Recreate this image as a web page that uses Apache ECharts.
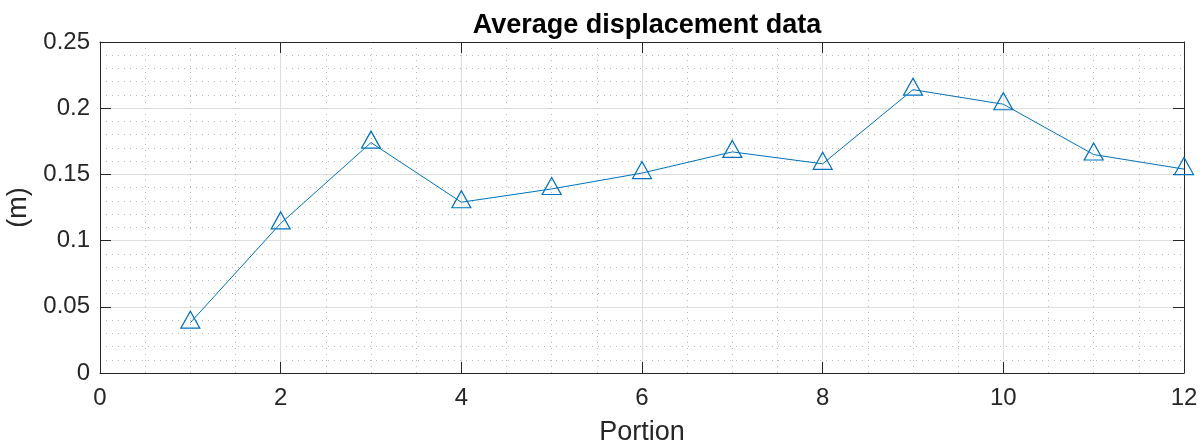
<!DOCTYPE html>
<html>
<head>
<meta charset="utf-8">
<title>Average displacement data</title>
<script src="https://cdn.jsdelivr.net/npm/echarts@6/dist/echarts.min.js"></script>
<style>
  html, body { margin: 0; padding: 0; background: #ffffff; }
  #chart { width: 1204px; height: 445px; }
</style>
</head>
<body>
<div id="chart"></div>
<script>
// Portion index and averaged displacement (m) per portion
const portions = [1, 2, 3, 4, 5, 6, 7, 8, 9, 10, 11, 12];
const displacement = [0.038, 0.113, 0.174, 0.129, 0.139, 0.151, 0.167, 0.158, 0.214, 0.203, 0.165, 0.154];

// Axis ranges and tick steps
const xRange = [0, 12];
const xStep = 2;
const yRange = [0, 0.25];
const yStep = 0.05;

const titleText = 'Average displacement data';
const xName = 'Portion';
const yName = '(m)';

const FONT = '"Liberation Sans", Arial, Helvetica, sans-serif';
const AXIS_COLOR = '#262626';
const LINE_COLOR = '#0072BD';

const points = portions.map((p, i) => [p, displacement[i]]);

const chart = echarts.init(document.getElementById('chart'), null, { renderer: 'canvas' });

const majorGrid = { show: true, lineStyle: { color: '#dedede', width: 1, type: 'solid' } };
const minorGrid = { show: true, lineStyle: { color: '#b8b8b8', width: 1, type: [1, 5] } };
const innerTick = { show: true, inside: true, length: 11, lineStyle: { color: AXIS_COLOR, width: 1 } };
const boxLine = { show: true, onZero: false, lineStyle: { color: AXIS_COLOR, width: 1 } };

chart.setOption({
  animation: false,
  backgroundColor: '#ffffff',
  title: {
    text: titleText,
    left: 642,
    textAlign: 'center',
    top: 7,
    textStyle: { fontFamily: FONT, fontSize: 27, fontWeight: 'bold', color: '#000000' }
  },
  grid: { left: 100, top: 42, width: 1084, height: 331, containLabel: false, outerBoundsMode: 'none' },
  xAxis: [
    {
      type: 'value',
      min: xRange[0], max: xRange[1], interval: xStep,
      name: xName, nameLocation: 'middle', nameGap: 46,
      nameTextStyle: { fontFamily: FONT, fontSize: 27, color: AXIS_COLOR },
      axisLine: boxLine,
      axisTick: innerTick,
      axisLabel: { fontFamily: FONT, fontSize: 24, color: AXIS_COLOR, margin: 13 },
      splitLine: majorGrid,
      minorTick: { show: false, splitNumber: 4 },
      minorSplitLine: minorGrid
    },
    {
      type: 'value', position: 'top',
      min: xRange[0], max: xRange[1], interval: xStep,
      axisLine: boxLine,
      axisTick: innerTick,
      axisLabel: { show: false },
      splitLine: { show: false }
    }
  ],
  yAxis: [
    {
      type: 'value',
      min: yRange[0], max: yRange[1], interval: yStep,
      name: yName, nameLocation: 'middle', nameGap: 64, nameRotate: 90,
      nameTextStyle: { fontFamily: FONT, fontSize: 27, color: AXIS_COLOR },
      axisLine: boxLine,
      axisTick: innerTick,
      axisLabel: { fontFamily: FONT, fontSize: 24, color: AXIS_COLOR, margin: 10 },
      splitLine: majorGrid,
      minorTick: { show: false, splitNumber: 5 },
      minorSplitLine: minorGrid
    },
    {
      type: 'value', position: 'right',
      min: yRange[0], max: yRange[1], interval: yStep,
      axisLine: boxLine,
      axisTick: innerTick,
      axisLabel: { show: false },
      splitLine: { show: false }
    }
  ],
  series: [
    {
      type: 'line',
      data: points,
      xAxisIndex: 0,
      yAxisIndex: 0,
      symbol: 'triangle',
      symbolSize: [19, 17],
      symbolOffset: [0, -3],
      showAllSymbol: true,
      lineStyle: { color: LINE_COLOR, width: 1 },
      itemStyle: { color: 'rgba(0,0,0,0)', borderColor: LINE_COLOR, borderWidth: 1.2 },
      emphasis: { disabled: true },
      silent: true,
      clip: false
    }
  ]
});
</script>
</body>
</html>
